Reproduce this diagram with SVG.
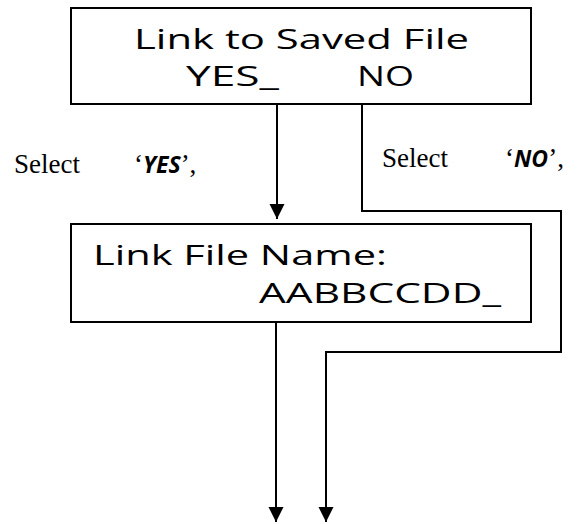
<svg xmlns="http://www.w3.org/2000/svg" width="584" height="524" viewBox="0 0 584 524">
<style>
.box{fill:#fff;stroke:#000;stroke-width:2}
.hand{font-family:"Open Sans","DejaVu Sans",sans-serif;font-size:27px;fill:#000}
.ser{font-family:"Liberation Serif","Times New Roman",serif;font-size:27px;fill:#000}
.b{font-family:"Open Sans","DejaVu Sans",sans-serif;font-weight:bold;font-style:italic;font-size:23px}
.conn{fill:none;stroke:#000;stroke-width:2}
</style>
<defs>
<marker id="arr" markerUnits="userSpaceOnUse" markerWidth="16" markerHeight="16" viewBox="0 0 16 16" refX="15" refY="7.5" orient="auto">
<path d="M0,0 L15,7.5 L0,15 Z" fill="#000"/>
</marker>
</defs>
<g id="node-link-saved">
<rect class="box" x="71" y="8" width="460" height="96"/>
<text class="hand" x="134" y="49" textLength="335" lengthAdjust="spacingAndGlyphs">Link to Saved File</text>
<text class="hand" x="186" y="86" textLength="93" lengthAdjust="spacingAndGlyphs">YES_</text>
<text class="hand" x="357" y="86" textLength="57" lengthAdjust="spacingAndGlyphs">NO</text>
</g>
<g id="node-link-name">
<rect class="box" x="71" y="224" width="460" height="98"/>
<text class="hand" x="93" y="265" textLength="294" lengthAdjust="spacingAndGlyphs">Link File Name:</text>
<text class="hand" x="259" y="303" textLength="242" lengthAdjust="spacingAndGlyphs">AABBCCDD_</text>
</g>
<g id="connectors">
<path class="conn" d="M277,104 V219" marker-end="url(#arr)"/>
<path class="conn" d="M362,104 V211 H561 V352 H326 V522" marker-end="url(#arr)"/>
<path class="conn" d="M276,322 V522" marker-end="url(#arr)"/>
</g>
<g id="labels">
<text class="ser" x="14" y="173">Select</text>
<text class="ser" x="134" y="173">‘<tspan class="b">YES</tspan>’,</text>
<text class="ser" x="382" y="167">Select</text>
<text class="ser" x="505" y="167">‘<tspan class="b">NO</tspan>’,</text>
</g>
</svg>
